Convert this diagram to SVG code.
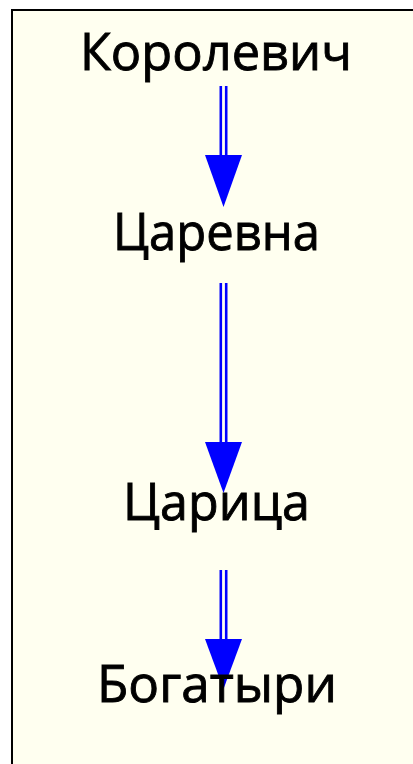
<svg xmlns="http://www.w3.org/2000/svg" width="413" height="764" viewBox="0 0 413 764">
<style>
.bg{fill:#fffff0;stroke:none}
.edge{stroke:#000;stroke-width:2;fill:none}
.lbl{font-family:"Open Sans","Noto Sans","DejaVu Sans",sans-serif;font-size:52px;fill:#000;stroke:#000;stroke-width:0.9;text-anchor:middle}
.shaft{stroke:#0000ff;stroke-width:2.6;fill:none}
.head{fill:#0000ff;stroke:none}
</style>
<rect x="0" y="0" width="413" height="764" fill="#ffffff"/>
<rect class="bg" x="12" y="10" width="401" height="754"/>
<path class="edge" d="M12,764 V10 H413"/>
<g id="connectors">
  <g id="e1">
    <line class="shaft" x1="220.8" y1="86" x2="220.8" y2="157"/>
    <line class="shaft" x1="226.2" y1="86" x2="226.2" y2="157"/>
    <polygon class="head" points="205,155 242,155 223.5,207"/>
  </g>
  <g id="e2">
    <line class="shaft" x1="220.8" y1="283" x2="220.8" y2="444"/>
    <line class="shaft" x1="226.2" y1="283" x2="226.2" y2="444"/>
    <polygon class="head" points="205,442 242,442 223.5,493"/>
  </g>
  <g id="e3">
    <line class="shaft" x1="220.8" y1="570" x2="220.8" y2="641"/>
    <line class="shaft" x1="226.2" y1="570" x2="226.2" y2="641"/>
    <polygon class="head" points="205,639 242,639 223.5,689"/>
  </g>
</g>
<g id="n1"><text class="lbl" x="216" y="70" textLength="272" lengthAdjust="spacingAndGlyphs">Королевич</text></g>
<g id="n2"><text class="lbl" x="216.5" y="250" textLength="207" lengthAdjust="spacingAndGlyphs">Царевна</text></g>
<g id="n3"><text class="lbl" x="216.5" y="520" textLength="187" lengthAdjust="spacingAndGlyphs">Царица</text></g>
<g id="n4"><text class="lbl" x="217" y="702" textLength="240" lengthAdjust="spacingAndGlyphs">Богатыри</text></g>
</svg>
